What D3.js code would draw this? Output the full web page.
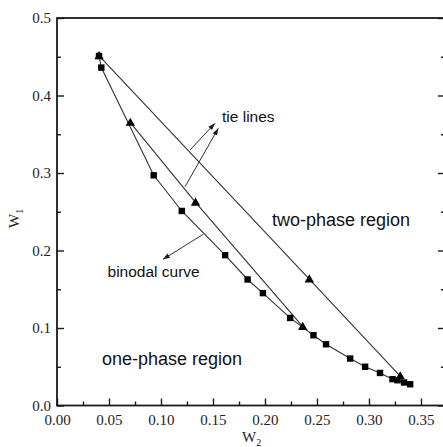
<!DOCTYPE html>
<html>
<head>
<meta charset="utf-8">
<script src="https://cdn.jsdelivr.net/npm/d3@7"></script>
<style>
  html, body { margin: 0; padding: 0; background: #fff; }
  svg { display: block; }
</style>
</head>
<body>
<svg id="chart" width="443" height="447"></svg>
<script>
// ---------- data ----------
const binodalW2 = [0.0404, 0.0426, 0.0930, 0.1200, 0.1617, 0.1833, 0.1980, 0.2242, 0.2466, 0.2587, 0.2819, 0.2963, 0.3106, 0.3226, 0.3274, 0.3337, 0.3396];
const binodalW1 = [0.451, 0.436, 0.297, 0.251, 0.194, 0.1626, 0.145, 0.113, 0.0906, 0.079, 0.0606, 0.050, 0.042, 0.034, 0.0326, 0.0297, 0.0274];

const tie1W2 = [0.0405, 0.2426, 0.3300];
const tie1W1 = [0.451, 0.163, 0.038];
const tie2W2 = [0.0705, 0.1332, 0.2363];
const tie2W1 = [0.365, 0.262, 0.1017];

const xTicks = [0.00, 0.05, 0.10, 0.15, 0.20, 0.25, 0.30, 0.35];
const xMinor = [0.025, 0.075, 0.125, 0.175, 0.225, 0.275, 0.325];
const yTicks = [0.0, 0.1, 0.2, 0.3, 0.4, 0.5];
const yMinor = [0.05, 0.15, 0.25, 0.35, 0.45];

// annotations (data coordinates)
const labels = [
  {text: "tie lines", x: 0.1587, y: 0.3658, size: 15.5},
  {text: "two-phase region", x: 0.2067, y: 0.2316, size: 18},
  {text: "binodal curve", x: 0.0486, y: 0.1658, size: 15.5},
  {text: "one-phase region", x: 0.0433, y: 0.0523, size: 18}
];
const arrows = [
  {x1: 0.1279, y1: 0.3297, x2: 0.1519, y2: 0.3641},
  {x1: 0.1231, y1: 0.2823, x2: 0.1551, y2: 0.3577},
  {x1: 0.1407, y1: 0.2210, x2: 0.1019, y2: 0.1886}
];

// ---------- layout ----------
const L = 57, R = 444.9, T = 18, B = 405.5;
const x = d3.scaleLinear().domain([0, 0.373]).range([L, R]);
const y = d3.scaleLinear().domain([0, 0.5]).range([B, T]);

const svg = d3.select("#chart");
const ink = "#1a1a1a";

svg.append("defs").append("marker")
  .attr("id", "ah").attr("viewBox", "0 0 10 10")
  .attr("refX", 10).attr("refY", 5)
  .attr("markerWidth", 7).attr("markerHeight", 7)
  .attr("markerUnits", "userSpaceOnUse")
  .attr("orient", "auto")
  .append("path").attr("d", "M0,1.5 L10,5 L0,8.5 Z").attr("fill", ink);

// lines
const line = d3.line().x(d => x(d[0])).y(d => y(d[1]));
const binodal = binodalW2.map((v, i) => [v, binodalW1[i]]);
const tie1 = tie1W2.map((v, i) => [v, tie1W1[i]]);
const tie2 = tie2W2.map((v, i) => [v, tie2W1[i]]);

[binodal, tie1, tie2].forEach(pts => {
  svg.append("path").attr("d", line(pts))
    .attr("fill", "none").attr("stroke", "#333").attr("stroke-width", 1.1);
});

// square markers
svg.append("g").selectAll("rect").data(binodal).join("rect")
  .attr("x", d => x(d[0]) - 3.2).attr("y", d => y(d[1]) - 3.2)
  .attr("width", 6.4).attr("height", 6.4).attr("fill", "#000");

// triangle markers
const tri = d3.symbol().type(d3.symbolTriangle).size(38);
svg.append("g").selectAll("path").data(tie1.concat(tie2)).join("path")
  .attr("d", tri)
  .attr("transform", d => `translate(${x(d[0])},${y(d[1]) + 0.5})`)
  .attr("fill", "#000");

// arrows
svg.append("g").selectAll("line").data(arrows).join("line")
  .attr("x1", d => x(d.x1)).attr("y1", d => y(d.y1))
  .attr("x2", d => x(d.x2)).attr("y2", d => y(d.y2))
  .attr("stroke", "#333").attr("stroke-width", 1)
  .attr("marker-end", "url(#ah)");

// labels
svg.append("g").selectAll("text").data(labels).join("text")
  .attr("x", d => x(d.x)).attr("y", d => y(d.y))
  .attr("font-family", "'Liberation Sans', Arial, sans-serif")
  .attr("font-size", d => d.size).attr("fill", "#111")
  .text(d => d.text);

// ---------- axes ----------
const frame = svg.append("g").attr("stroke", ink).attr("fill", "none");
frame.append("rect").attr("x", L).attr("y", T).attr("width", R - L).attr("height", B - T)
  .attr("stroke-width", 1.8);

const xAxis = d3.axisBottom(x).tickValues(xTicks).tickFormat(d3.format(".2f"))
  .tickSizeInner(-7).tickSizeOuter(0).tickPadding(9);
const gx = svg.append("g").attr("transform", `translate(0,${B})`).call(xAxis);
gx.select(".domain").remove();
gx.selectAll(".tick line").attr("stroke", ink).attr("stroke-width", 1.4);
gx.selectAll("text").attr("font-family", "'Liberation Serif', 'Times New Roman', serif")
  .attr("font-size", 15).attr("fill", "#222");
const gxm = svg.append("g").attr("transform", `translate(0,${B})`)
  .call(d3.axisBottom(x).tickValues(xMinor).tickFormat("").tickSizeInner(-4).tickSizeOuter(0));
gxm.select(".domain").remove();
gxm.selectAll(".tick line").attr("stroke", ink).attr("stroke-width", 1.4);

const yAxis = d3.axisLeft(y).tickValues(yTicks).tickFormat(d3.format(".1f"))
  .tickSizeInner(-7).tickSizeOuter(0).tickPadding(6);
const gy = svg.append("g").attr("transform", `translate(${L},0)`).call(yAxis);
gy.select(".domain").remove();
gy.selectAll(".tick line").attr("stroke", ink).attr("stroke-width", 1.4);
gy.selectAll("text").attr("font-family", "'Liberation Serif', 'Times New Roman', serif")
  .attr("font-size", 15).attr("fill", "#222");
const gym = svg.append("g").attr("transform", `translate(${L},0)`)
  .call(d3.axisLeft(y).tickValues(yMinor).tickFormat("").tickSizeInner(-4).tickSizeOuter(0));
gym.select(".domain").remove();
gym.selectAll(".tick line").attr("stroke", ink).attr("stroke-width", 1.4);

// right axis ticks (inward)
const gr = svg.append("g").attr("transform", `translate(${R},0)`)
  .call(d3.axisRight(y).tickValues(yTicks).tickFormat("").tickSizeInner(-7).tickSizeOuter(0));
gr.select(".domain").remove();
gr.selectAll(".tick line").attr("stroke", ink).attr("stroke-width", 1.4);
const grm = svg.append("g").attr("transform", `translate(${R},0)`)
  .call(d3.axisRight(y).tickValues(yMinor).tickFormat("").tickSizeInner(-4).tickSizeOuter(0));
grm.select(".domain").remove();
grm.selectAll(".tick line").attr("stroke", ink).attr("stroke-width", 1.4);

// axis titles
const xt = svg.append("text").attr("x", 242).attr("y", 442)
  .attr("font-family", "'Liberation Serif', 'Times New Roman', serif")
  .attr("font-size", 15).attr("fill", "#222");
xt.append("tspan").text("W");
xt.append("tspan").attr("font-size", 10).attr("dy", 4).text("2");

const yt = svg.append("text").attr("transform", "translate(19,228) rotate(-90)")
  .attr("font-family", "'Liberation Serif', 'Times New Roman', serif")
  .attr("font-size", 15).attr("fill", "#222");
yt.append("tspan").text("W");
yt.append("tspan").attr("font-size", 10).attr("dy", 4).text("1");
</script>
</body>
</html>
